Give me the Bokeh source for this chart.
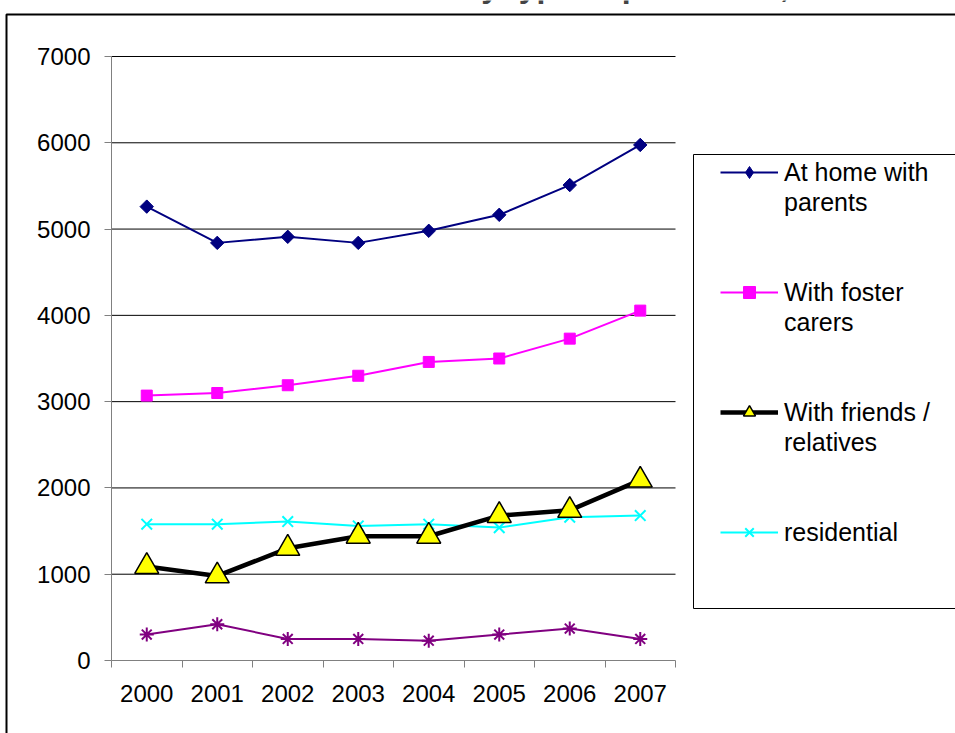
from bokeh.plotting import figure
from bokeh.models import Range1d, FixedTicker, Legend, LegendItem, BoxAnnotation, Label
from bokeh.embed import file_html
from bokeh.resources import INLINE
import numpy as np

years = ["2000", "2001", "2002", "2003", "2004", "2005", "2006", "2007"]
at_home = [5260, 4840, 4910, 4840, 4980, 5165, 5510, 5975]
foster = [3070, 3100, 3190, 3300, 3460, 3500, 3730, 4055]
friends = [1090, 980, 1300, 1440, 1440, 1680, 1740, 2090]
residential = [1580, 1580, 1610, 1560, 1580, 1540, 1660, 1680]
other = [300, 420, 250, 250, 230, 300, 370, 250]
y_ticks = [0, 1000, 2000, 3000, 4000, 5000, 6000, 7000]
title_text = "Looked after children by type of placement, 2000-2007"

W, H = 955, 733
PL, PR, PT, PB = 111, 675, 56, 660  # plot-area edges in pixels
NCAT = len(years)
YMAX = 7000
PXX = (PR - PL) / NCAT          # pixels per category
PXY = (PB - PT) / YMAX          # pixels per unit of value

xs = [i + 0.5 for i in range(NCAT)]

def dx(px):
    return (px - PL) / PXX

def dy(py):
    return (PB - py) / PXY

FONT = "Liberation Sans"

p = figure(width=W, height=H, output_backend="svg", toolbar_location=None,
           x_range=Range1d(dx(0), dx(W)), y_range=Range1d(dy(H), dy(0)),
           min_border=0, min_border_left=0, min_border_right=0,
           min_border_top=0, min_border_bottom=0)
p.outline_line_color = None
p.background_fill_color = "white"
p.border_fill_color = "white"
p.xgrid.visible = False
p.ygrid.visible = False

# horizontal gridlines across the plot area only
grid_y = y_ticks[1:]
p.segment(x0=[0] * len(grid_y), y0=grid_y, x1=[NCAT] * len(grid_y), y1=grid_y,
          line_color="black", line_width=1)

# axes, drawn at the plot-area edges
p.xaxis.fixed_location = 0
p.yaxis.fixed_location = 0
p.xaxis.bounds = (0, NCAT)
p.yaxis.bounds = (0, YMAX)
p.xaxis.ticker = FixedTicker(ticks=xs, minor_ticks=list(range(NCAT + 1)))
p.xaxis.major_label_overrides = {x: y for x, y in zip(xs, years)}
p.xaxis.major_tick_out = 0
p.xaxis.major_tick_in = 0
p.xaxis.minor_tick_out = 7
p.xaxis.minor_tick_in = 0
p.xaxis.major_label_standoff = 17
p.yaxis.ticker = FixedTicker(ticks=y_ticks, minor_ticks=[])
p.yaxis.major_tick_out = 7
p.yaxis.major_tick_in = 0
p.yaxis.minor_tick_out = 0
p.yaxis.major_label_standoff = 14
for ax in (p.xaxis, p.yaxis):
    ax.axis_line_color = "#808080"
    ax.major_tick_line_color = "#808080"
    ax.minor_tick_line_color = "#808080"
    ax.major_label_text_font = FONT
    ax.major_label_text_font_size = "24px"
    ax.major_label_text_color = "black"

# series
l1 = p.line(xs, at_home, line_color="#000080", line_width=2)
m1d = p.scatter(xs, at_home, marker="diamond", size=12,
                fill_color="#000080", line_color="#000080")
m1 = p.scatter(xs, at_home, marker="square", angle=np.pi / 4, size=9.5,
               fill_color="#000080", line_color="#000080")
l2 = p.line(xs, foster, line_color="#FF00FF", line_width=2)
m2 = p.scatter(xs, foster, marker="square", size=11,
               fill_color="#FF00FF", line_color="#FF00FF")
l5 = p.line(xs, other, line_color="#800080", line_width=2)
m5 = p.scatter(xs, other, marker="asterisk", size=14,
               line_color="#800080", line_width=2)
l4 = p.line(xs, residential, line_color="#00FFFF", line_width=2)
m4 = p.scatter(xs, residential, marker="x", size=15,
               line_color="#00FFFF", line_width=2)
l3 = p.line(xs, friends, line_color="black", line_width=4.5)
m3 = p.scatter(xs, friends, marker="triangle", size=24,
               fill_color="#FFFF00", line_color="black", line_width=1.5)

# legend box
p.add_layout(BoxAnnotation(left=dx(693), right=dx(965), top=dy(154), bottom=dy(608),
                           fill_alpha=0, line_color="black", line_alpha=1,
                           line_width=1))
# outer chart border
p.add_layout(BoxAnnotation(left=dx(6), right=dx(970), top=dy(14), bottom=dy(750),
                           fill_alpha=0, line_color="black", line_alpha=1,
                           line_width=2))

items = [
    LegendItem(label="At home with", renderers=[l1, m1d]),
    LegendItem(label="parents", renderers=[]),
    LegendItem(label=" ", renderers=[]),
    LegendItem(label=" ", renderers=[]),
    LegendItem(label="With foster", renderers=[l2, m2]),
    LegendItem(label="carers", renderers=[]),
    LegendItem(label=" ", renderers=[]),
    LegendItem(label=" ", renderers=[]),
    LegendItem(label="With friends /", renderers=[l3, m3]),
    LegendItem(label="relatives", renderers=[]),
    LegendItem(label=" ", renderers=[]),
    LegendItem(label=" ", renderers=[]),
    LegendItem(label="residential", renderers=[l4, m4]),
]
legend = Legend(items=items, location=(720, H - (157 + 13 * 30)),
                padding=0, spacing=0, margin=0,
                glyph_width=58, glyph_height=30, label_height=30,
                label_standoff=6, label_text_font=FONT,
                label_text_font_size="25px", label_text_color="black",
                background_fill_alpha=0, border_line_alpha=0)
p.add_layout(legend, "center")

# title, cut off at the top edge as in the original
p.add_layout(Label(x=dx(127), y=dy(-15), text=title_text, text_font=FONT,
                   text_font_size="32px", text_font_style="bold",
                   text_baseline="alphabetic", text_align="left"))

open("out.html", "w").write(file_html(p, INLINE))
